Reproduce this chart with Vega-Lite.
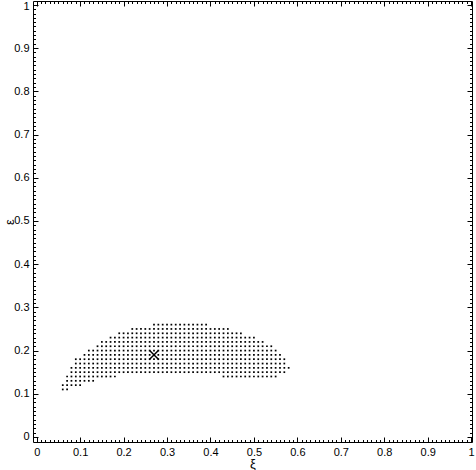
{
"$schema":"https://vega.github.io/schema/vega-lite/v6.json",
"width":439,"height":441,
"autosize":{"type":"none"},
"padding":{"left":33,"top":1,"right":4,"bottom":28},
"background":"white",
"config":{"view":{"stroke":null},"axis":{"grid":false,"domainColor":"black","tickColor":"black","labelColor":"black","titleColor":"black","labelFont":"Liberation Sans","titleFont":"Liberation Sans","labelFontSize":11,"titleFontWeight":"normal","titleFontSize":13,"labelOverlap":false,"labelFlush":false,"labelBound":false,"domainWidth":1,"tickWidth":1}},
"datasets":{
"grid":[
{"xi":0.27,"eps":0.26},{"xi":0.28,"eps":0.26},{"xi":0.29,"eps":0.26},{"xi":0.3,"eps":0.26},{"xi":0.31,"eps":0.26},{"xi":0.32,"eps":0.26},{"xi":0.33,"eps":0.26},{"xi":0.34,"eps":0.26},{"xi":0.35,"eps":0.26},{"xi":0.36,"eps":0.26},{"xi":0.37,"eps":0.26},{"xi":0.38,"eps":0.26},{"xi":0.39,"eps":0.26},
{"xi":0.22,"eps":0.25},{"xi":0.23,"eps":0.25},{"xi":0.24,"eps":0.25},{"xi":0.25,"eps":0.25},{"xi":0.26,"eps":0.25},{"xi":0.27,"eps":0.25},{"xi":0.28,"eps":0.25},{"xi":0.29,"eps":0.25},{"xi":0.3,"eps":0.25},{"xi":0.31,"eps":0.25},{"xi":0.32,"eps":0.25},{"xi":0.33,"eps":0.25},{"xi":0.34,"eps":0.25},{"xi":0.35,"eps":0.25},{"xi":0.36,"eps":0.25},{"xi":0.37,"eps":0.25},{"xi":0.38,"eps":0.25},{"xi":0.39,"eps":0.25},{"xi":0.4,"eps":0.25},{"xi":0.41,"eps":0.25},{"xi":0.42,"eps":0.25},{"xi":0.43,"eps":0.25},{"xi":0.44,"eps":0.25},
{"xi":0.19,"eps":0.24},{"xi":0.2,"eps":0.24},{"xi":0.21,"eps":0.24},{"xi":0.22,"eps":0.24},{"xi":0.23,"eps":0.24},{"xi":0.24,"eps":0.24},{"xi":0.25,"eps":0.24},{"xi":0.26,"eps":0.24},{"xi":0.27,"eps":0.24},{"xi":0.28,"eps":0.24},{"xi":0.29,"eps":0.24},{"xi":0.3,"eps":0.24},{"xi":0.31,"eps":0.24},{"xi":0.32,"eps":0.24},{"xi":0.33,"eps":0.24},{"xi":0.34,"eps":0.24},{"xi":0.35,"eps":0.24},{"xi":0.36,"eps":0.24},{"xi":0.37,"eps":0.24},{"xi":0.38,"eps":0.24},{"xi":0.39,"eps":0.24},{"xi":0.4,"eps":0.24},{"xi":0.41,"eps":0.24},{"xi":0.42,"eps":0.24},{"xi":0.43,"eps":0.24},{"xi":0.44,"eps":0.24},{"xi":0.45,"eps":0.24},{"xi":0.46,"eps":0.24},{"xi":0.47,"eps":0.24},
{"xi":0.17,"eps":0.23},{"xi":0.18,"eps":0.23},{"xi":0.19,"eps":0.23},{"xi":0.2,"eps":0.23},{"xi":0.21,"eps":0.23},{"xi":0.22,"eps":0.23},{"xi":0.23,"eps":0.23},{"xi":0.24,"eps":0.23},{"xi":0.25,"eps":0.23},{"xi":0.26,"eps":0.23},{"xi":0.27,"eps":0.23},{"xi":0.28,"eps":0.23},{"xi":0.29,"eps":0.23},{"xi":0.3,"eps":0.23},{"xi":0.31,"eps":0.23},{"xi":0.32,"eps":0.23},{"xi":0.33,"eps":0.23},{"xi":0.34,"eps":0.23},{"xi":0.35,"eps":0.23},{"xi":0.36,"eps":0.23},{"xi":0.37,"eps":0.23},{"xi":0.38,"eps":0.23},{"xi":0.39,"eps":0.23},{"xi":0.4,"eps":0.23},{"xi":0.41,"eps":0.23},{"xi":0.42,"eps":0.23},{"xi":0.43,"eps":0.23},{"xi":0.44,"eps":0.23},{"xi":0.45,"eps":0.23},{"xi":0.46,"eps":0.23},{"xi":0.47,"eps":0.23},{"xi":0.48,"eps":0.23},{"xi":0.49,"eps":0.23},{"xi":0.5,"eps":0.23},
{"xi":0.15,"eps":0.22},{"xi":0.16,"eps":0.22},{"xi":0.17,"eps":0.22},{"xi":0.18,"eps":0.22},{"xi":0.19,"eps":0.22},{"xi":0.2,"eps":0.22},{"xi":0.21,"eps":0.22},{"xi":0.22,"eps":0.22},{"xi":0.23,"eps":0.22},{"xi":0.24,"eps":0.22},{"xi":0.25,"eps":0.22},{"xi":0.26,"eps":0.22},{"xi":0.27,"eps":0.22},{"xi":0.28,"eps":0.22},{"xi":0.29,"eps":0.22},{"xi":0.3,"eps":0.22},{"xi":0.31,"eps":0.22},{"xi":0.32,"eps":0.22},{"xi":0.33,"eps":0.22},{"xi":0.34,"eps":0.22},{"xi":0.35,"eps":0.22},{"xi":0.36,"eps":0.22},{"xi":0.37,"eps":0.22},{"xi":0.38,"eps":0.22},{"xi":0.39,"eps":0.22},{"xi":0.4,"eps":0.22},{"xi":0.41,"eps":0.22},{"xi":0.42,"eps":0.22},{"xi":0.43,"eps":0.22},{"xi":0.44,"eps":0.22},{"xi":0.45,"eps":0.22},{"xi":0.46,"eps":0.22},{"xi":0.47,"eps":0.22},{"xi":0.48,"eps":0.22},{"xi":0.49,"eps":0.22},{"xi":0.5,"eps":0.22},{"xi":0.51,"eps":0.22},{"xi":0.52,"eps":0.22},
{"xi":0.14,"eps":0.21},{"xi":0.15,"eps":0.21},{"xi":0.16,"eps":0.21},{"xi":0.17,"eps":0.21},{"xi":0.18,"eps":0.21},{"xi":0.19,"eps":0.21},{"xi":0.2,"eps":0.21},{"xi":0.21,"eps":0.21},{"xi":0.22,"eps":0.21},{"xi":0.23,"eps":0.21},{"xi":0.24,"eps":0.21},{"xi":0.25,"eps":0.21},{"xi":0.26,"eps":0.21},{"xi":0.27,"eps":0.21},{"xi":0.28,"eps":0.21},{"xi":0.29,"eps":0.21},{"xi":0.3,"eps":0.21},{"xi":0.31,"eps":0.21},{"xi":0.32,"eps":0.21},{"xi":0.33,"eps":0.21},{"xi":0.34,"eps":0.21},{"xi":0.35,"eps":0.21},{"xi":0.36,"eps":0.21},{"xi":0.37,"eps":0.21},{"xi":0.38,"eps":0.21},{"xi":0.39,"eps":0.21},{"xi":0.4,"eps":0.21},{"xi":0.41,"eps":0.21},{"xi":0.42,"eps":0.21},{"xi":0.43,"eps":0.21},{"xi":0.44,"eps":0.21},{"xi":0.45,"eps":0.21},{"xi":0.46,"eps":0.21},{"xi":0.47,"eps":0.21},{"xi":0.48,"eps":0.21},{"xi":0.49,"eps":0.21},{"xi":0.5,"eps":0.21},{"xi":0.51,"eps":0.21},{"xi":0.52,"eps":0.21},{"xi":0.53,"eps":0.21},{"xi":0.54,"eps":0.21},
{"xi":0.12,"eps":0.2},{"xi":0.13,"eps":0.2},{"xi":0.14,"eps":0.2},{"xi":0.15,"eps":0.2},{"xi":0.16,"eps":0.2},{"xi":0.17,"eps":0.2},{"xi":0.18,"eps":0.2},{"xi":0.19,"eps":0.2},{"xi":0.2,"eps":0.2},{"xi":0.21,"eps":0.2},{"xi":0.22,"eps":0.2},{"xi":0.23,"eps":0.2},{"xi":0.24,"eps":0.2},{"xi":0.25,"eps":0.2},{"xi":0.26,"eps":0.2},{"xi":0.27,"eps":0.2},{"xi":0.28,"eps":0.2},{"xi":0.29,"eps":0.2},{"xi":0.3,"eps":0.2},{"xi":0.31,"eps":0.2},{"xi":0.32,"eps":0.2},{"xi":0.33,"eps":0.2},{"xi":0.34,"eps":0.2},{"xi":0.35,"eps":0.2},{"xi":0.36,"eps":0.2},{"xi":0.37,"eps":0.2},{"xi":0.38,"eps":0.2},{"xi":0.39,"eps":0.2},{"xi":0.4,"eps":0.2},{"xi":0.41,"eps":0.2},{"xi":0.42,"eps":0.2},{"xi":0.43,"eps":0.2},{"xi":0.44,"eps":0.2},{"xi":0.45,"eps":0.2},{"xi":0.46,"eps":0.2},{"xi":0.47,"eps":0.2},{"xi":0.48,"eps":0.2},{"xi":0.49,"eps":0.2},{"xi":0.5,"eps":0.2},{"xi":0.51,"eps":0.2},{"xi":0.52,"eps":0.2},{"xi":0.53,"eps":0.2},{"xi":0.54,"eps":0.2},{"xi":0.55,"eps":0.2},
{"xi":0.11,"eps":0.19},{"xi":0.12,"eps":0.19},{"xi":0.13,"eps":0.19},{"xi":0.14,"eps":0.19},{"xi":0.15,"eps":0.19},{"xi":0.16,"eps":0.19},{"xi":0.17,"eps":0.19},{"xi":0.18,"eps":0.19},{"xi":0.19,"eps":0.19},{"xi":0.2,"eps":0.19},{"xi":0.21,"eps":0.19},{"xi":0.22,"eps":0.19},{"xi":0.23,"eps":0.19},{"xi":0.24,"eps":0.19},{"xi":0.25,"eps":0.19},{"xi":0.26,"eps":0.19},{"xi":0.27,"eps":0.19},{"xi":0.28,"eps":0.19},{"xi":0.29,"eps":0.19},{"xi":0.3,"eps":0.19},{"xi":0.31,"eps":0.19},{"xi":0.32,"eps":0.19},{"xi":0.33,"eps":0.19},{"xi":0.34,"eps":0.19},{"xi":0.35,"eps":0.19},{"xi":0.36,"eps":0.19},{"xi":0.37,"eps":0.19},{"xi":0.38,"eps":0.19},{"xi":0.39,"eps":0.19},{"xi":0.4,"eps":0.19},{"xi":0.41,"eps":0.19},{"xi":0.42,"eps":0.19},{"xi":0.43,"eps":0.19},{"xi":0.44,"eps":0.19},{"xi":0.45,"eps":0.19},{"xi":0.46,"eps":0.19},{"xi":0.47,"eps":0.19},{"xi":0.48,"eps":0.19},{"xi":0.49,"eps":0.19},{"xi":0.5,"eps":0.19},{"xi":0.51,"eps":0.19},{"xi":0.52,"eps":0.19},{"xi":0.53,"eps":0.19},{"xi":0.54,"eps":0.19},{"xi":0.55,"eps":0.19},{"xi":0.56,"eps":0.19},
{"xi":0.09,"eps":0.18},{"xi":0.1,"eps":0.18},{"xi":0.11,"eps":0.18},{"xi":0.12,"eps":0.18},{"xi":0.13,"eps":0.18},{"xi":0.14,"eps":0.18},{"xi":0.15,"eps":0.18},{"xi":0.16,"eps":0.18},{"xi":0.17,"eps":0.18},{"xi":0.18,"eps":0.18},{"xi":0.19,"eps":0.18},{"xi":0.2,"eps":0.18},{"xi":0.21,"eps":0.18},{"xi":0.22,"eps":0.18},{"xi":0.23,"eps":0.18},{"xi":0.24,"eps":0.18},{"xi":0.25,"eps":0.18},{"xi":0.26,"eps":0.18},{"xi":0.27,"eps":0.18},{"xi":0.28,"eps":0.18},{"xi":0.29,"eps":0.18},{"xi":0.3,"eps":0.18},{"xi":0.31,"eps":0.18},{"xi":0.32,"eps":0.18},{"xi":0.33,"eps":0.18},{"xi":0.34,"eps":0.18},{"xi":0.35,"eps":0.18},{"xi":0.36,"eps":0.18},{"xi":0.37,"eps":0.18},{"xi":0.38,"eps":0.18},{"xi":0.39,"eps":0.18},{"xi":0.4,"eps":0.18},{"xi":0.41,"eps":0.18},{"xi":0.42,"eps":0.18},{"xi":0.43,"eps":0.18},{"xi":0.44,"eps":0.18},{"xi":0.45,"eps":0.18},{"xi":0.46,"eps":0.18},{"xi":0.47,"eps":0.18},{"xi":0.48,"eps":0.18},{"xi":0.49,"eps":0.18},{"xi":0.5,"eps":0.18},{"xi":0.51,"eps":0.18},{"xi":0.52,"eps":0.18},{"xi":0.53,"eps":0.18},{"xi":0.54,"eps":0.18},{"xi":0.55,"eps":0.18},{"xi":0.56,"eps":0.18},{"xi":0.57,"eps":0.18},
{"xi":0.09,"eps":0.17},{"xi":0.1,"eps":0.17},{"xi":0.11,"eps":0.17},{"xi":0.12,"eps":0.17},{"xi":0.13,"eps":0.17},{"xi":0.14,"eps":0.17},{"xi":0.15,"eps":0.17},{"xi":0.16,"eps":0.17},{"xi":0.17,"eps":0.17},{"xi":0.18,"eps":0.17},{"xi":0.19,"eps":0.17},{"xi":0.2,"eps":0.17},{"xi":0.21,"eps":0.17},{"xi":0.22,"eps":0.17},{"xi":0.23,"eps":0.17},{"xi":0.24,"eps":0.17},{"xi":0.25,"eps":0.17},{"xi":0.26,"eps":0.17},{"xi":0.27,"eps":0.17},{"xi":0.28,"eps":0.17},{"xi":0.29,"eps":0.17},{"xi":0.3,"eps":0.17},{"xi":0.31,"eps":0.17},{"xi":0.32,"eps":0.17},{"xi":0.33,"eps":0.17},{"xi":0.34,"eps":0.17},{"xi":0.35,"eps":0.17},{"xi":0.36,"eps":0.17},{"xi":0.37,"eps":0.17},{"xi":0.38,"eps":0.17},{"xi":0.39,"eps":0.17},{"xi":0.4,"eps":0.17},{"xi":0.41,"eps":0.17},{"xi":0.42,"eps":0.17},{"xi":0.43,"eps":0.17},{"xi":0.44,"eps":0.17},{"xi":0.45,"eps":0.17},{"xi":0.46,"eps":0.17},{"xi":0.47,"eps":0.17},{"xi":0.48,"eps":0.17},{"xi":0.49,"eps":0.17},{"xi":0.5,"eps":0.17},{"xi":0.51,"eps":0.17},{"xi":0.52,"eps":0.17},{"xi":0.53,"eps":0.17},{"xi":0.54,"eps":0.17},{"xi":0.55,"eps":0.17},{"xi":0.56,"eps":0.17},{"xi":0.57,"eps":0.17},
{"xi":0.08,"eps":0.16},{"xi":0.09,"eps":0.16},{"xi":0.1,"eps":0.16},{"xi":0.11,"eps":0.16},{"xi":0.12,"eps":0.16},{"xi":0.13,"eps":0.16},{"xi":0.14,"eps":0.16},{"xi":0.15,"eps":0.16},{"xi":0.16,"eps":0.16},{"xi":0.17,"eps":0.16},{"xi":0.18,"eps":0.16},{"xi":0.19,"eps":0.16},{"xi":0.2,"eps":0.16},{"xi":0.21,"eps":0.16},{"xi":0.22,"eps":0.16},{"xi":0.23,"eps":0.16},{"xi":0.24,"eps":0.16},{"xi":0.25,"eps":0.16},{"xi":0.26,"eps":0.16},{"xi":0.27,"eps":0.16},{"xi":0.28,"eps":0.16},{"xi":0.29,"eps":0.16},{"xi":0.3,"eps":0.16},{"xi":0.31,"eps":0.16},{"xi":0.32,"eps":0.16},{"xi":0.33,"eps":0.16},{"xi":0.34,"eps":0.16},{"xi":0.35,"eps":0.16},{"xi":0.36,"eps":0.16},{"xi":0.37,"eps":0.16},{"xi":0.38,"eps":0.16},{"xi":0.39,"eps":0.16},{"xi":0.4,"eps":0.16},{"xi":0.41,"eps":0.16},{"xi":0.42,"eps":0.16},{"xi":0.43,"eps":0.16},{"xi":0.44,"eps":0.16},{"xi":0.45,"eps":0.16},{"xi":0.46,"eps":0.16},{"xi":0.47,"eps":0.16},{"xi":0.48,"eps":0.16},{"xi":0.49,"eps":0.16},{"xi":0.5,"eps":0.16},{"xi":0.51,"eps":0.16},{"xi":0.52,"eps":0.16},{"xi":0.53,"eps":0.16},{"xi":0.54,"eps":0.16},{"xi":0.55,"eps":0.16},{"xi":0.56,"eps":0.16},{"xi":0.57,"eps":0.16},{"xi":0.58,"eps":0.16},
{"xi":0.08,"eps":0.15},{"xi":0.09,"eps":0.15},{"xi":0.1,"eps":0.15},{"xi":0.11,"eps":0.15},{"xi":0.12,"eps":0.15},{"xi":0.13,"eps":0.15},{"xi":0.14,"eps":0.15},{"xi":0.15,"eps":0.15},{"xi":0.16,"eps":0.15},{"xi":0.17,"eps":0.15},{"xi":0.18,"eps":0.15},{"xi":0.19,"eps":0.15},{"xi":0.2,"eps":0.15},{"xi":0.21,"eps":0.15},{"xi":0.22,"eps":0.15},{"xi":0.23,"eps":0.15},{"xi":0.24,"eps":0.15},{"xi":0.25,"eps":0.15},{"xi":0.26,"eps":0.15},{"xi":0.27,"eps":0.15},{"xi":0.28,"eps":0.15},{"xi":0.29,"eps":0.15},{"xi":0.3,"eps":0.15},{"xi":0.31,"eps":0.15},{"xi":0.32,"eps":0.15},{"xi":0.33,"eps":0.15},{"xi":0.34,"eps":0.15},{"xi":0.35,"eps":0.15},{"xi":0.36,"eps":0.15},{"xi":0.37,"eps":0.15},{"xi":0.38,"eps":0.15},{"xi":0.39,"eps":0.15},{"xi":0.4,"eps":0.15},{"xi":0.41,"eps":0.15},{"xi":0.42,"eps":0.15},{"xi":0.43,"eps":0.15},{"xi":0.44,"eps":0.15},{"xi":0.45,"eps":0.15},{"xi":0.46,"eps":0.15},{"xi":0.47,"eps":0.15},{"xi":0.48,"eps":0.15},{"xi":0.49,"eps":0.15},{"xi":0.5,"eps":0.15},{"xi":0.51,"eps":0.15},{"xi":0.52,"eps":0.15},{"xi":0.53,"eps":0.15},{"xi":0.54,"eps":0.15},{"xi":0.55,"eps":0.15},{"xi":0.56,"eps":0.15},{"xi":0.57,"eps":0.15},
{"xi":0.07,"eps":0.14},{"xi":0.08,"eps":0.14},{"xi":0.09,"eps":0.14},{"xi":0.1,"eps":0.14},{"xi":0.11,"eps":0.14},{"xi":0.12,"eps":0.14},{"xi":0.13,"eps":0.14},{"xi":0.14,"eps":0.14},{"xi":0.15,"eps":0.14},{"xi":0.16,"eps":0.14},{"xi":0.17,"eps":0.14},{"xi":0.18,"eps":0.14},
{"xi":0.43,"eps":0.14},{"xi":0.44,"eps":0.14},{"xi":0.45,"eps":0.14},{"xi":0.46,"eps":0.14},{"xi":0.47,"eps":0.14},{"xi":0.48,"eps":0.14},{"xi":0.49,"eps":0.14},{"xi":0.5,"eps":0.14},{"xi":0.51,"eps":0.14},{"xi":0.52,"eps":0.14},{"xi":0.53,"eps":0.14},{"xi":0.54,"eps":0.14},{"xi":0.55,"eps":0.14},
{"xi":0.07,"eps":0.13},{"xi":0.08,"eps":0.13},{"xi":0.09,"eps":0.13},{"xi":0.1,"eps":0.13},{"xi":0.11,"eps":0.13},{"xi":0.12,"eps":0.13},{"xi":0.13,"eps":0.13},
{"xi":0.06,"eps":0.12},{"xi":0.07,"eps":0.12},{"xi":0.08,"eps":0.12},{"xi":0.09,"eps":0.12},{"xi":0.1,"eps":0.12},
{"xi":0.06,"eps":0.11},{"xi":0.07,"eps":0.11}
],
"best":[{"xi":0.27,"eps":0.19}]
},
"layer":[
{"data":{"name":"grid"},
 "mark":{"type":"point","shape":"square","filled":true,"size":3,"color":"black","opacity":1},
 "encoding":{
  "x":{"field":"xi","type":"quantitative","scale":{"domain":[-0.0085,1.002],"nice":false,"zero":false},
   "axis":{"orient":"bottom","title":"ξ","titlePadding":-2,"values":[0,0.01,0.02,0.03,0.04,0.05,0.06,0.07,0.08,0.09,0.1,0.11,0.12,0.13,0.14,0.15,0.16,0.17,0.18,0.19,0.2,0.21,0.22,0.23,0.24,0.25,0.26,0.27,0.28,0.29,0.3,0.31,0.32,0.33,0.34,0.35,0.36,0.37,0.38,0.39,0.4,0.41,0.42,0.43,0.44,0.45,0.46,0.47,0.48,0.49,0.5,0.51,0.52,0.53,0.54,0.55,0.56,0.57,0.58,0.59,0.6,0.61,0.62,0.63,0.64,0.65,0.66,0.67,0.68,0.69,0.7,0.71,0.72,0.73,0.74,0.75,0.76,0.77,0.78,0.79,0.8,0.81,0.82,0.83,0.84,0.85,0.86,0.87,0.88,0.89,0.9,0.91,0.92,0.93,0.94,0.95,0.96,0.97,0.98,0.99,1],
    "labelExpr":"round(datum.value*100)%10===0 ? format(datum.value,'~g') : ''",
    "tickSize":{"condition":{"test":"round(datum.value*100)%10!==0","value":-2.5},"value":-5},
    "labelPadding":9}},
  "y":{"field":"eps","type":"quantitative","scale":{"domain":[-0.0116,1.009],"nice":false,"zero":false},
   "axis":{"orient":"left","title":"ε","titlePadding":-3,"values":[0,0.01,0.02,0.03,0.04,0.05,0.06,0.07,0.08,0.09,0.1,0.11,0.12,0.13,0.14,0.15,0.16,0.17,0.18,0.19,0.2,0.21,0.22,0.23,0.24,0.25,0.26,0.27,0.28,0.29,0.3,0.31,0.32,0.33,0.34,0.35,0.36,0.37,0.38,0.39,0.4,0.41,0.42,0.43,0.44,0.45,0.46,0.47,0.48,0.49,0.5,0.51,0.52,0.53,0.54,0.55,0.56,0.57,0.58,0.59,0.6,0.61,0.62,0.63,0.64,0.65,0.66,0.67,0.68,0.69,0.7,0.71,0.72,0.73,0.74,0.75,0.76,0.77,0.78,0.79,0.8,0.81,0.82,0.83,0.84,0.85,0.86,0.87,0.88,0.89,0.9,0.91,0.92,0.93,0.94,0.95,0.96,0.97,0.98,0.99,1],
    "labelExpr":"round(datum.value*100)%10===0 ? format(datum.value,'~g') : ''",
    "labelOffset":{"condition":{"test":"datum.value===1","value":1.5},"value":0},
    "tickSize":{"condition":{"test":"round(datum.value*100)%10!==0","value":-2.5},"value":-5},
    "labelPadding":9}}
 }},
{"data":{"name":"best"},
 "mark":{"type":"point","shape":"M-1,-1L1,1M-1,1L1,-1","filled":false,"size":85,"stroke":"black","strokeWidth":1.5,"opacity":1},
 "encoding":{
  "x":{"field":"xi","type":"quantitative","scale":{"domain":[-0.0085,1.002],"nice":false,"zero":false},
   "axis":{"orient":"top","title":null,"labels":false,"values":[0,0.01,0.02,0.03,0.04,0.05,0.06,0.07,0.08,0.09,0.1,0.11,0.12,0.13,0.14,0.15,0.16,0.17,0.18,0.19,0.2,0.21,0.22,0.23,0.24,0.25,0.26,0.27,0.28,0.29,0.3,0.31,0.32,0.33,0.34,0.35,0.36,0.37,0.38,0.39,0.4,0.41,0.42,0.43,0.44,0.45,0.46,0.47,0.48,0.49,0.5,0.51,0.52,0.53,0.54,0.55,0.56,0.57,0.58,0.59,0.6,0.61,0.62,0.63,0.64,0.65,0.66,0.67,0.68,0.69,0.7,0.71,0.72,0.73,0.74,0.75,0.76,0.77,0.78,0.79,0.8,0.81,0.82,0.83,0.84,0.85,0.86,0.87,0.88,0.89,0.9,0.91,0.92,0.93,0.94,0.95,0.96,0.97,0.98,0.99,1],
    "tickSize":{"condition":{"test":"round(datum.value*100)%10!==0","value":-2.5},"value":-5}}},
  "y":{"field":"eps","type":"quantitative","scale":{"domain":[-0.0116,1.009],"nice":false,"zero":false},
   "axis":{"orient":"right","title":null,"labels":false,"values":[0,0.01,0.02,0.03,0.04,0.05,0.06,0.07,0.08,0.09,0.1,0.11,0.12,0.13,0.14,0.15,0.16,0.17,0.18,0.19,0.2,0.21,0.22,0.23,0.24,0.25,0.26,0.27,0.28,0.29,0.3,0.31,0.32,0.33,0.34,0.35,0.36,0.37,0.38,0.39,0.4,0.41,0.42,0.43,0.44,0.45,0.46,0.47,0.48,0.49,0.5,0.51,0.52,0.53,0.54,0.55,0.56,0.57,0.58,0.59,0.6,0.61,0.62,0.63,0.64,0.65,0.66,0.67,0.68,0.69,0.7,0.71,0.72,0.73,0.74,0.75,0.76,0.77,0.78,0.79,0.8,0.81,0.82,0.83,0.84,0.85,0.86,0.87,0.88,0.89,0.9,0.91,0.92,0.93,0.94,0.95,0.96,0.97,0.98,0.99,1],
    "tickSize":{"condition":{"test":"round(datum.value*100)%10!==0","value":-2.5},"value":-5}}}
 }}
],
"resolve":{"axis":{"x":"independent","y":"independent"}}
}
